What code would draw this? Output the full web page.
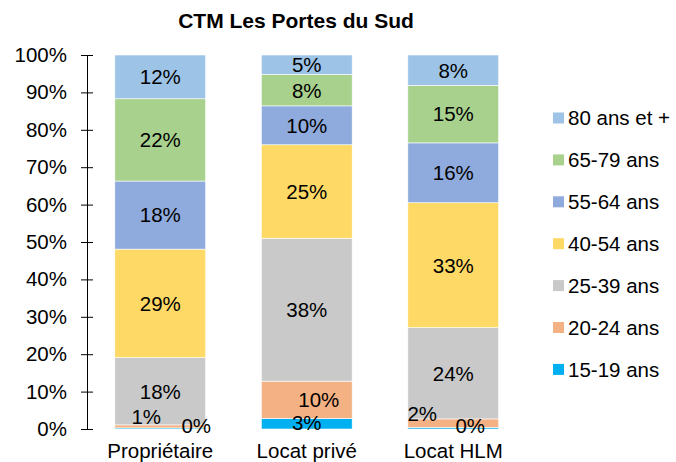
<!DOCTYPE html>
<html>
<head>
<meta charset="utf-8">
<script src="https://cdn.jsdelivr.net/npm/d3@7"></script>
<style>
  body { margin: 0; background: #fff; }
  text { font-family: "Liberation Sans", Arial, sans-serif; fill: #000; }
</style>
</head>
<body>
<div id="chart"></div>
<script>
const width = 676;
const height = 462;

const title = "CTM Les Portes du Sud";
const categories = ["Propriétaire", "Locat privé", "Locat HLM"];
const ageGroups = ["15-19 ans", "20-24 ans", "25-39 ans", "40-54 ans", "55-64 ans", "65-79 ans", "80 ans et +"];
const colors = ["#00b0f0", "#f4b183", "#c9c9c9", "#ffd966", "#8faadc", "#a9d18e", "#9dc3e6"];

// share of each age group, per category (same order as ageGroups)
const proprietaire = [0.003, 0.008, 0.180, 0.290, 0.182, 0.220, 0.117];
const locatPrive = [0.028, 0.100, 0.382, 0.250, 0.104, 0.084, 0.052];
const locatHLM = [0.004, 0.023, 0.244, 0.334, 0.160, 0.154, 0.081];
const yTicks = [0, 0.1, 0.2, 0.3, 0.4, 0.5, 0.6, 0.7, 0.8, 0.9, 1];

const seriesValues = [proprietaire, locatPrive, locatHLM];

const rows = categories.map((c, i) => {
  const row = { category: c };
  ageGroups.forEach((g, j) => (row[g] = seriesValues[i][j]));
  return row;
});

// small labels moved aside, like in the original
const labelNudge = {
  "Propriétaire|15-19 ans": [36, -3],
  "Propriétaire|20-24 ans": [-14, -10],
  "Locat privé|15-19 ans": [0, -1],
  "Locat privé|20-24 ans": [12, 0],
  "Locat HLM|15-19 ans": [17, -3],
  "Locat HLM|20-24 ans": [-31, -10],
};

const fontSize = "20.5px";
const margin = { top: 55, left: 87, bottom: 33, right: 150 };

const svg = d3
  .select("#chart")
  .append("svg")
  .attr("width", width)
  .attr("height", height);

const x = d3
  .scaleBand()
  .domain(categories)
  .range([margin.left, margin.left + 439.5])
  .paddingInner(0.38)
  .paddingOuter(0.19);

const y = d3
  .scaleLinear()
  .domain([0, 1])
  .range([429, margin.top]);

const stack = d3.stack().keys(ageGroups)(rows);

svg
  .append("text")
  .attr("x", 296)
  .attr("y", 28)
  .attr("text-anchor", "middle")
  .style("font-size", "21px")
  .style("font-weight", "bold")
  .text(title);

svg
  .append("g")
  .selectAll("g")
  .data(stack)
  .join("g")
  .attr("fill", (d, i) => colors[i])
  .selectAll("rect")
  .data((d) => d)
  .join("rect")
  .attr("x", (d) => x(d.data.category))
  .attr("width", x.bandwidth())
  .attr("y", (d) => y(d[1]))
  .attr("height", (d) => y(d[0]) - y(d[1]))
  .attr("stroke", "#fff")
  .attr("stroke-width", 0.6);

const fmt = d3.format(".0%");
const labels = stack.flatMap((s) => s.map((p) => ({ p, key: s.key })));

svg
  .append("g")
  .selectAll("text")
  .data(labels)
  .join("text")
  .attr("x", (d) => {
    const n = labelNudge[d.p.data.category + "|" + d.key] || [0, 0];
    return x(d.p.data.category) + x.bandwidth() / 2 + n[0];
  })
  .attr("y", (d) => {
    const n = labelNudge[d.p.data.category + "|" + d.key] || [0, 0];
    return (y(d.p[0]) + y(d.p[1])) / 2 + n[1];
  })
  .attr("dy", "0.36em")
  .attr("text-anchor", "middle")
  .style("font-size", fontSize)
  .text((d) => fmt(d.p[1] - d.p[0]));

const yAxis = d3
  .axisLeft(y)
  .tickValues(yTicks)
  .tickFormat(d3.format(".0%"))
  .tickSizeInner(6)
  .tickSizeOuter(0);

const gy = svg
  .append("g")
  .attr("transform", `translate(${margin.left},0)`)
  .call(yAxis);

gy.select(".domain").attr("stroke", "#000");
gy.selectAll(".tick line").attr("x1", -6).attr("x2", 6).attr("stroke", "#000");
gy.selectAll(".tick text")
  .attr("x", -20)
  .style("font-size", fontSize)
  .style("font-family", "'Liberation Sans', Arial, sans-serif");

svg
  .append("g")
  .selectAll("text")
  .data(categories)
  .join("text")
  .attr("x", (d) => x(d) + x.bandwidth() / 2)
  .attr("y", 457.5)
  .attr("text-anchor", "middle")
  .style("font-size", fontSize)
  .text((d) => d);

// legend, top entry is the last series
const legend = svg
  .append("g")
  .selectAll("g")
  .data(ageGroups.slice().reverse())
  .join("g")
  .attr("transform", (d, i) => `translate(553, ${118 + i * 41.9})`);

legend
  .append("rect")
  .attr("x", 0)
  .attr("y", -5.5)
  .attr("width", 11)
  .attr("height", 11)
  .attr("fill", (d) => colors[ageGroups.indexOf(d)]);

legend
  .append("text")
  .attr("x", 15)
  .attr("y", 0)
  .attr("dy", "0.36em")
  .style("font-size", fontSize)
  .text((d) => d);
</script>
</body>
</html>
